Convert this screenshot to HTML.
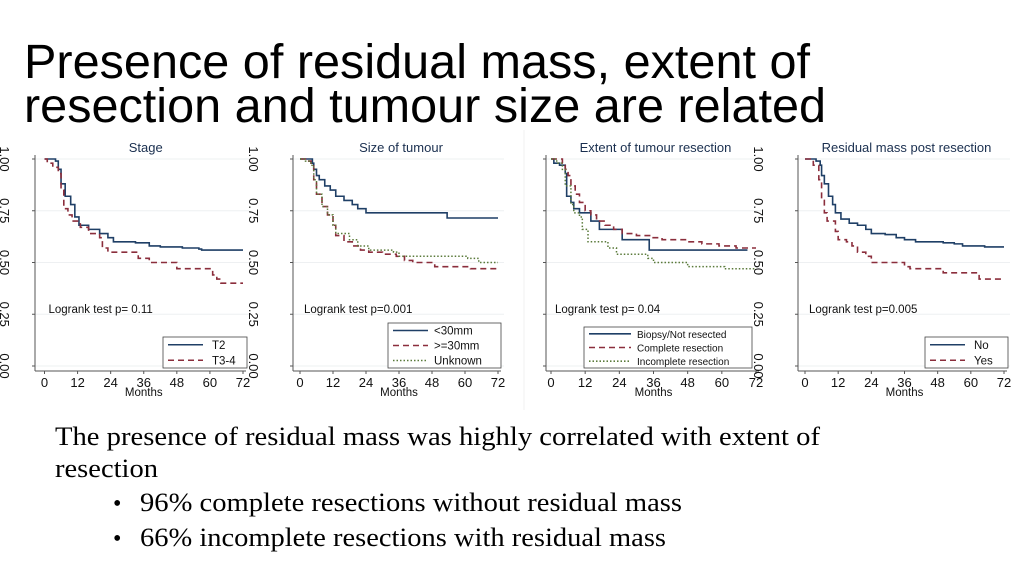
<!DOCTYPE html>
<html><head><meta charset="utf-8">
<style>
html,body{margin:0;padding:0;background:#fff;}
body{width:1024px;height:570px;overflow:hidden;position:relative;}
svg{position:absolute;left:0;top:0;}
</style></head>
<body>
<svg id="s" width="1024" height="570" viewBox="0 0 1024 570">
  <text x="24" y="78" font-family="Liberation Sans, sans-serif" font-size="48" textLength="786" lengthAdjust="spacingAndGlyphs" fill="#000">Presence of residual mass, extent of</text>
  <text x="24" y="122" font-family="Liberation Sans, sans-serif" font-size="48" textLength="802" lengthAdjust="spacingAndGlyphs" fill="#000">resection and tumour size are related</text>
  <line x1="524" y1="130" x2="524" y2="410" stroke="#f0f0f0" stroke-width="1"/>
  <g id="charts"></g>
  <text x="55" y="445" font-family="Liberation Serif, serif" font-size="26" textLength="765" lengthAdjust="spacingAndGlyphs" fill="#000">The presence of residual mass was highly correlated with extent of</text>
  <text x="55" y="477" font-family="Liberation Serif, serif" font-size="26" textLength="103" lengthAdjust="spacingAndGlyphs" fill="#000">resection</text>
  <text x="113" y="511" font-family="Liberation Serif, serif" font-size="24" fill="#000">•</text>
  <text x="140" y="511" font-family="Liberation Serif, serif" font-size="26" textLength="542" lengthAdjust="spacingAndGlyphs" fill="#000">96% complete resections without residual mass</text>
  <text x="113" y="546" font-family="Liberation Serif, serif" font-size="24" fill="#000">•</text>
  <text x="140" y="546" font-family="Liberation Serif, serif" font-size="26" textLength="526" lengthAdjust="spacingAndGlyphs" fill="#000">66% incomplete resections with residual mass</text>
</svg>
<script>
// ---- data: step points [month, survival] ----
const xTicks = [0,12,24,36,48,60,72];
const yTicks = [0,0.25,0.5,0.75,1];
const yTickLabels = ["0.00","0.25","0.50","0.75","1.00"];

const stageT2 = [[0,1],[4,0.99],[5,0.95],[6,0.88],[7.5,0.82],[9.5,0.78],[11,0.72],[12.5,0.68],[16,0.66],[20,0.64],[23,0.62],[25,0.60],[33,0.595],[38,0.58],[42,0.575],[50,0.57],[56,0.565],[57,0.56],[72,0.56]];
const stageT34 = [[0,1],[1,0.98],[3,0.96],[5,0.93],[6,0.85],[7,0.76],[8.5,0.73],[10,0.70],[13,0.67],[16,0.64],[20,0.62],[21,0.57],[23,0.55],[34,0.52],[38,0.50],[48,0.47],[61,0.44],[62.5,0.42],[64,0.40],[72,0.40]];

const sizeLt30 = [[0,1],[4.5,0.98],[5,0.95],[6,0.92],[7,0.90],[9,0.87],[11,0.85],[13,0.82],[16,0.80],[19,0.78],[21,0.76],[24,0.74],[53.5,0.715],[72,0.715]];
const sizeGe30 = [[0,1],[2,0.99],[4,0.97],[5,0.90],[6,0.83],[8,0.77],[10,0.73],[12,0.68],[13,0.63],[16,0.60],[19,0.58],[22,0.56],[25,0.55],[30,0.54],[35,0.53],[38,0.51],[41,0.50],[49,0.48],[62,0.47],[72,0.47]];
const sizeUnk = [[0,1],[2,0.99],[4,0.97],[5,0.90],[6,0.83],[8,0.77],[10,0.73],[12,0.68],[13,0.64],[18,0.61],[21,0.58],[25,0.56],[31,0.56],[34,0.55],[36,0.53],[61,0.52],[65,0.50],[72,0.50]];

const resBiopsy = [[0,1],[1,0.98],[3,0.97],[5,0.93],[5.5,0.82],[7,0.79],[8,0.76],[10,0.74],[14,0.70],[17,0.66],[25,0.61],[34.5,0.56],[69,0.56]];
const resComplete = [[0,1],[4,0.98],[5,0.95],[6,0.92],[7,0.87],[8.5,0.83],[10,0.79],[12,0.75],[14,0.73],[16,0.70],[19,0.68],[22,0.66],[25,0.64],[30,0.63],[35,0.62],[39,0.61],[48,0.60],[53,0.59],[59,0.58],[65,0.57],[72,0.57]];
const resIncomplete = [[0,1],[2,0.98],[4,0.95],[5,0.87],[7,0.78],[8,0.74],[10,0.72],[11,0.66],[13,0.60],[18,0.60],[20,0.57],[23,0.54],[33,0.54],[34,0.52],[36,0.50],[48,0.48],[61,0.47],[72,0.47]];

const massNo = [[0,1],[4,0.99],[5.5,0.97],[6,0.92],[7,0.88],[8.5,0.82],[10,0.78],[11,0.74],[13,0.71],[16,0.69],[19,0.68],[22,0.66],[24,0.64],[29,0.635],[33,0.62],[36,0.61],[40,0.60],[50,0.595],[54,0.59],[57,0.58],[65,0.575],[72,0.575]];
const massYes = [[0,1],[3,0.97],[5,0.90],[6,0.80],[7,0.74],[8,0.70],[11,0.65],[12,0.61],[15,0.60],[17,0.58],[19,0.55],[22,0.53],[24,0.50],[34,0.50],[36,0.48],[38,0.47],[50,0.45],[62,0.45],[63,0.42],[72,0.42]];

const panels = [
  {name:'stage',title:'Stage',axisX:35,x0:44.5,x1:243,ylab:4,p:'Logrank test p= 0.11',
   legend:{x:163,y:337,w:84,h:31},
   series:[{n:'T2',d:stageT2,c:'#1f3f66',dash:''},{n:'T3-4',d:stageT34,c:'#8b2e3c',dash:'6,4'}]},
  {name:'size',title:'Size of tumour',axisX:293,x0:300,x1:498,ylab:253,p:'Logrank test p=0.001',
   legend:{x:388,y:323,w:113,h:45},
   series:[{n:'<30mm',d:sizeLt30,c:'#1f3f66',dash:''},{n:'>=30mm',d:sizeGe30,c:'#8b2e3c',dash:'6,4'},{n:'Unknown',d:sizeUnk,c:'#5a7a3a',dash:'1.5,2'}]},
  {name:'resection',title:'Extent of tumour resection',axisX:546,x0:551,x1:756,ylab:null,p:'Logrank test p= 0.04',
   legend:{x:584,y:327,w:168,h:41},
   series:[{n:'Biopsy/Not resected',d:resBiopsy,c:'#1f3f66',dash:''},{n:'Complete resection',d:resComplete,c:'#8b2e3c',dash:'6,4'},{n:'Incomplete resection',d:resIncomplete,c:'#5a7a3a',dash:'1.5,2'}]},
  {name:'residual-mass',title:'Residual mass post resection',axisX:798,x0:805,x1:1004,ylab:758,p:'Logrank test p=0.005',
   legend:{x:925,y:337,w:83,h:31},
   series:[{n:'No',d:massNo,c:'#1f3f66',dash:''},{n:'Yes',d:massYes,c:'#8b2e3c',dash:'6,4'}]}
];

const NS='http://www.w3.org/2000/svg';
const root=document.getElementById('charts');
const Y1=159, Y0=366, AXB=371;
function yScale(v){return Y0-(Y0-Y1)*v;}
function mk(tag,attrs,parent,text){const e=document.createElementNS(NS,tag);for(const k in attrs)e.setAttribute(k,attrs[k]);if(text!=null)e.textContent=text;parent.appendChild(e);return e;}
const FONT='Liberation Sans, sans-serif';

panels.forEach(P=>{
  const xs=v=>P.x0+(P.x1-P.x0)*v/72;
  const g=mk('g',{},root);
  
  
  yTicks.forEach(v=>{
    const l=mk('line',{x1:P.axisX,x2:P.x1+6,y1:yScale(v),y2:yScale(v),stroke:'#eef0f2','stroke-width':1},g);
    
    
    const t=mk('line',{x1:P.axisX-3,x2:P.axisX,y1:yScale(v),y2:yScale(v),stroke:'#555','stroke-width':1},g);
    
    
  });
  const ya=mk('line',{x1:P.axisX,x2:P.axisX,y1:yScale(1)-4,y2:AXB,stroke:'#555','stroke-width':1},g);
  
  
  const xa=mk('line',{x1:P.axisX,x2:P.x1+3,y1:AXB,y2:AXB,stroke:'#555','stroke-width':1},g);
  
  
  xTicks.forEach(v=>{
    const t=mk('line',{x1:xs(v),x2:xs(v),y1:AXB,y2:AXB+3,stroke:'#555','stroke-width':1},g);
    
    
    const tl=mk('text',{x:xs(v),y:387,'text-anchor':'middle','font-family':FONT,'font-size':13,fill:'#111'},g,String(v));
    
    
  });
  const xt=mk('text',{x:(P.x0+P.x1)/2,y:396,'text-anchor':'middle','font-family':FONT,'font-size':11.5,fill:'#111'},g,'Months');
  
  
  if(P.ylab!=null){
    yTicks.forEach((v,i)=>{
      const yy=yScale(v);
      const t=mk('text',{x:P.ylab,y:yy,'text-anchor':'middle','font-family':FONT,'font-size':13,fill:'#111',transform:`rotate(90 ${P.ylab} ${yy}) translate(0 4)`},g,yTickLabels[i]);
      
      
    });
  }
  const ti=mk('text',{x:(P.x0+P.x1)/2+2,y:152,'text-anchor':'middle','font-family':FONT,'font-size':13,fill:'#1a2f4f'},g,P.title);
  
  
  const pt=mk('text',{x:P.x0+4,y:313,'font-family':FONT,'font-size':11.5,fill:'#111'},g,P.p);
  
  
  P.series.forEach(S=>{
    let d='';
    S.d.forEach((pt,i)=>{
      const x=xs(pt[0]),y=yScale(pt[1]);
      if(i===0)d+=`M${x},${y}`;else d+=`H${x}V${y}`;
    });
    const path=mk('path',{d:d,fill:'none',stroke:S.c,'stroke-width':S.dash==='1.5,2'?1.5:1.6,'stroke-dasharray':S.dash},g);
    
    
  });
  const L=P.legend;
  const lg=mk('g',{},g);
  
  
  mk('rect',{x:L.x,y:L.y,width:L.w,height:L.h,fill:'#fff',stroke:'#444','stroke-width':0.8},lg);
  const n=P.series.length, rh=L.h/n;
  const small=L.w>150;
  P.series.forEach((S,i)=>{
    const cy=L.y+rh*(i+0.5);
    const ln=mk('line',{x1:L.x+5,x2:L.x+(small?47:40),y1:cy,y2:cy,stroke:S.c,'stroke-width':1.6,'stroke-dasharray':S.dash},lg);
    
    
    const lt=mk('text',{x:L.x+(small?53:(L.w>100?46:49)),y:cy+4,'font-family':FONT,'font-size':small?10:11.5,fill:'#111'},lg,S.n);
    
    
  });
});
</script>
</body></html>
